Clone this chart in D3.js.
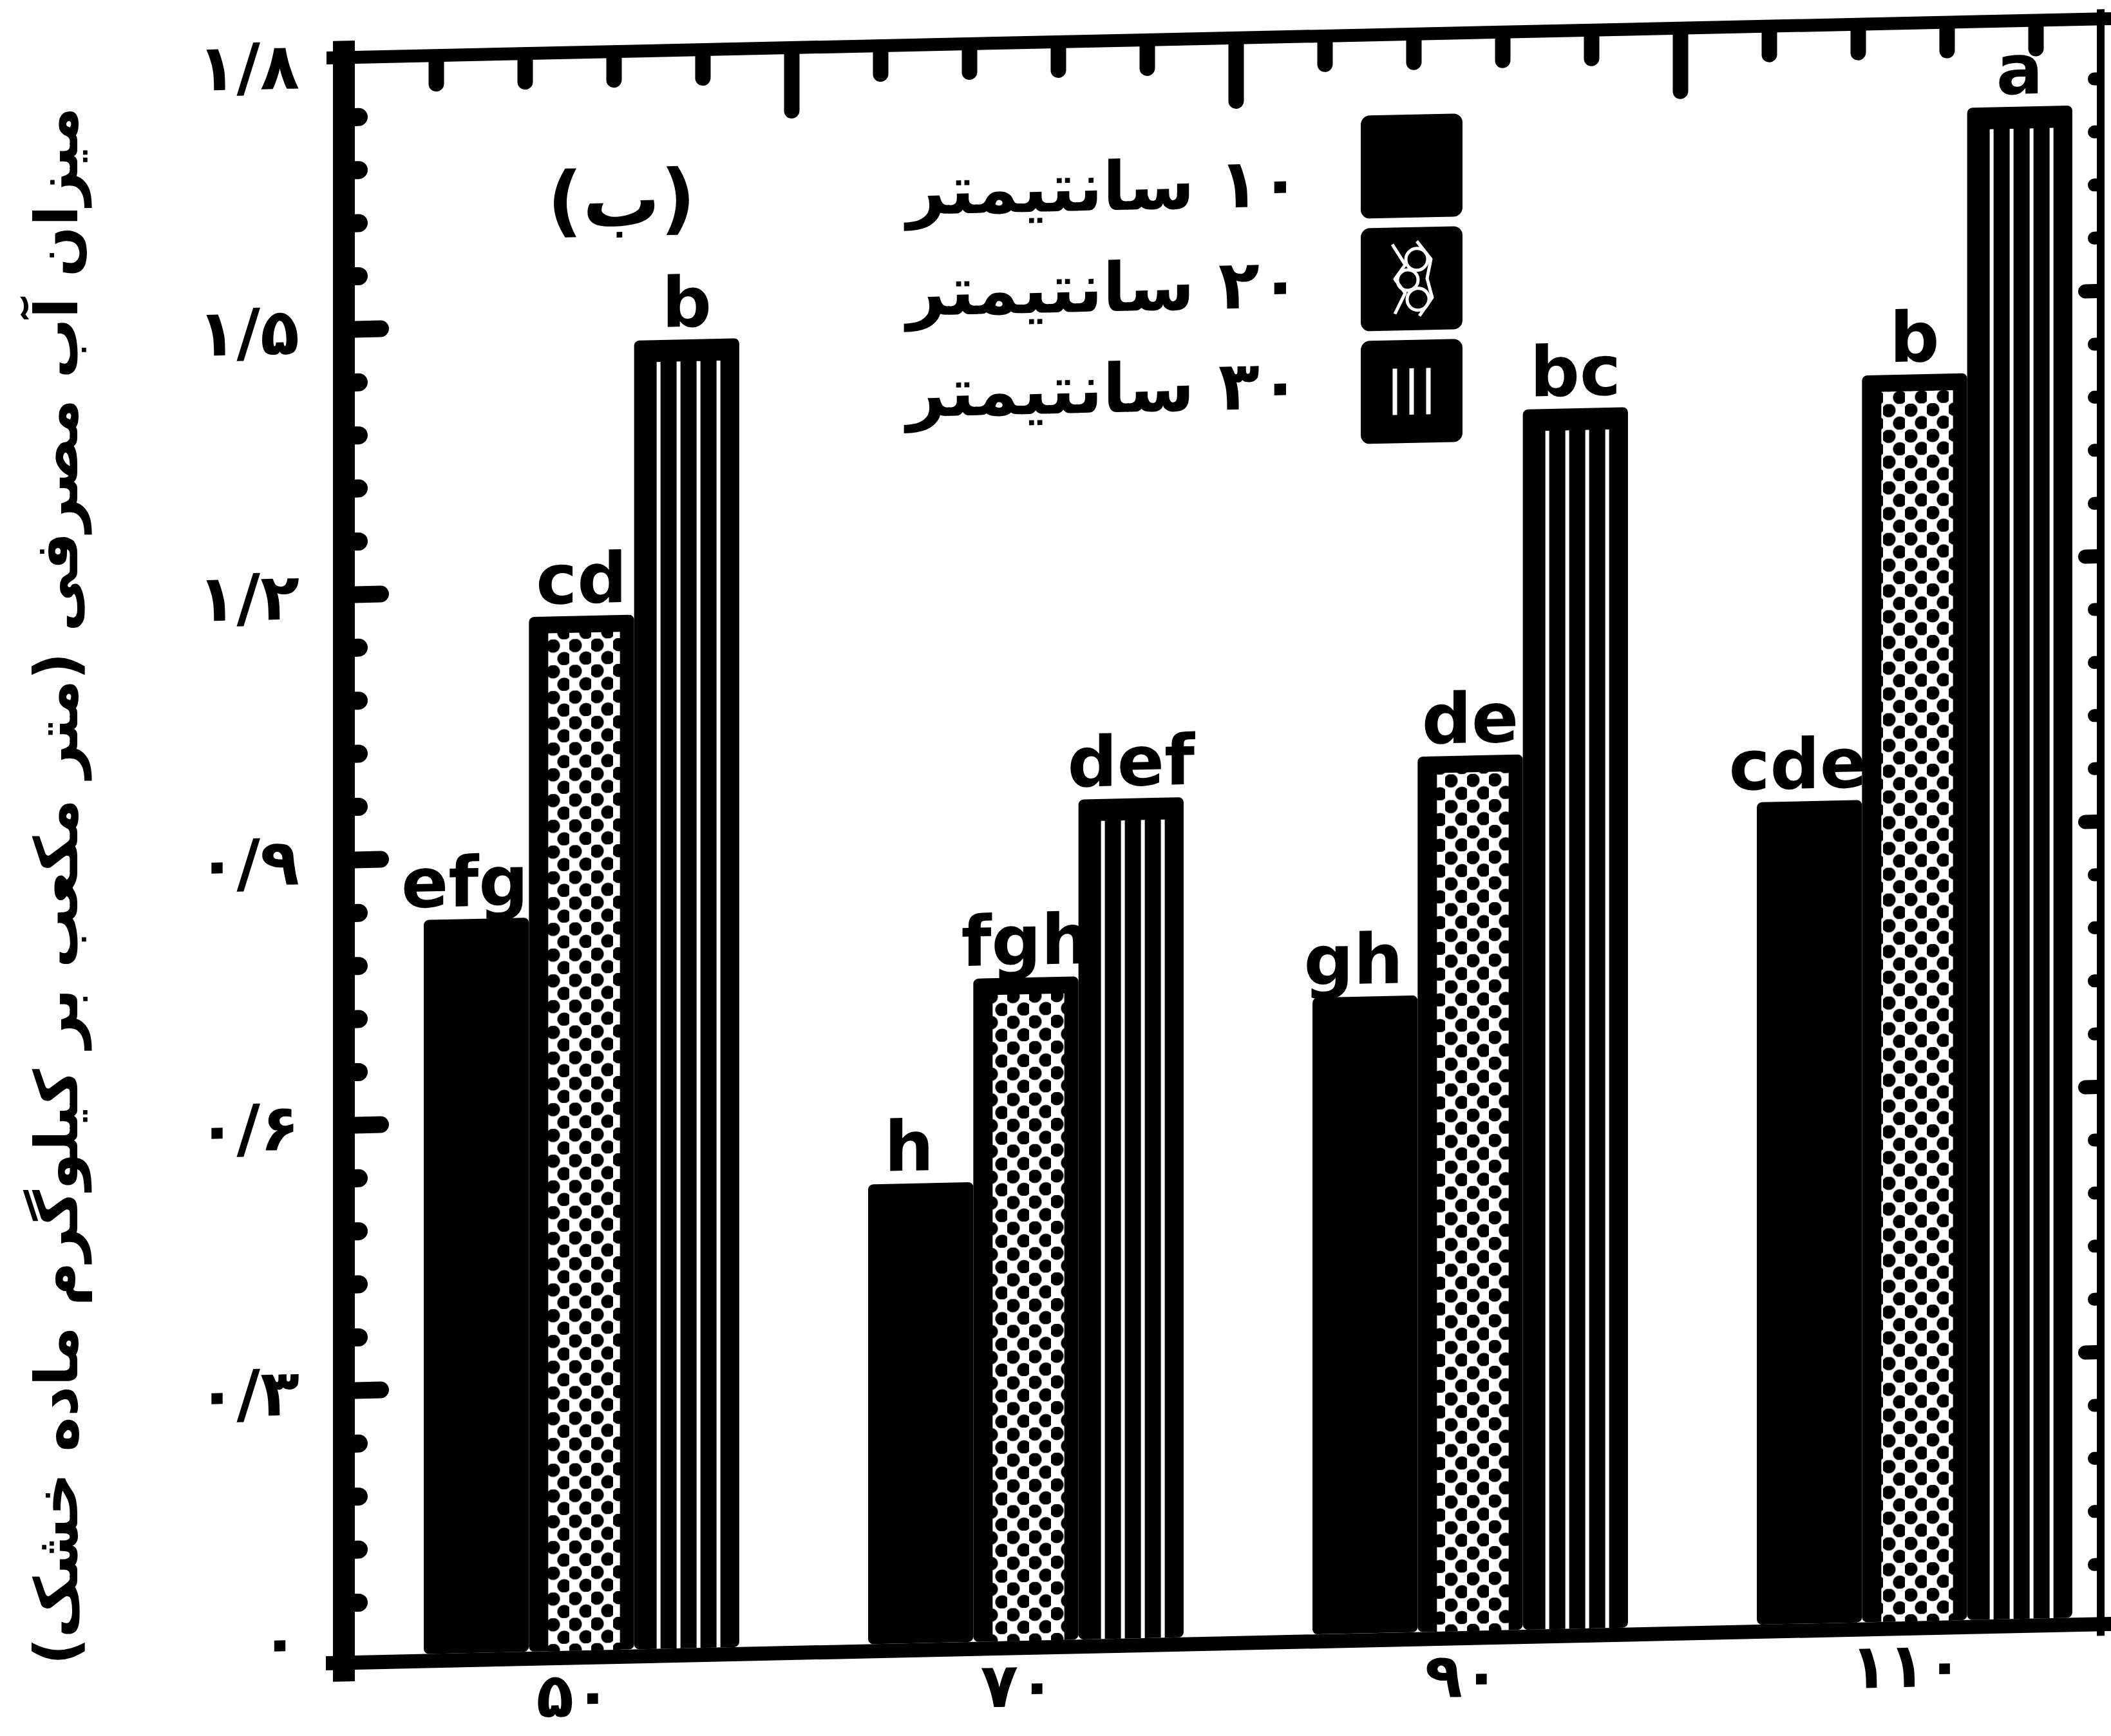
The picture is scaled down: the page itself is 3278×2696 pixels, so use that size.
<!DOCTYPE html>
<html>
<head>
<meta charset="utf-8">
<script src="https://cdn.jsdelivr.net/npm/d3@7"></script>
<style>
  html, body { margin: 0; padding: 0; background: #fff; }
  svg { display: block; }
  text { font-family: "DejaVu Sans", sans-serif; font-weight: bold; fill: #000; }
</style>
</head>
<body>
<svg id="chart" width="3278" height="2696"></svg>
<script>
// ---------------- data ----------------
const categories = ["۵۰", "۷۰", "۹۰", "۱۱۰"];
const seriesNames = ["۱۰ سانتیمتر", "۲۰ سانتیمتر", "۳۰ سانتیمتر"];
const depth10 = [0.83, 0.52, 0.72, 0.93];
const depth20 = [1.17, 0.75, 0.99, 1.41];
const depth30 = [1.48, 0.95, 1.38, 1.71];
const letters10 = ["efg", "h", "gh", "cde"];
const letters20 = ["cd", "fgh", "de", "b"];
const letters30 = ["b", "def", "bc", "a"];
const yTickValues = [0, 0.3, 0.6, 0.9, 1.2, 1.5, 1.8];
const yTickLabels = ["۰", "۰/۳", "۰/۶", "۰/۹", "۱/۲", "۱/۵", "۱/۸"];
const yTitle = "میزان آب مصرفی (متر مکعب بر کیلوگرم ماده خشک)";
const panelLabel = "(ب)";

const seriesValues = [depth10, depth20, depth30];
const seriesLetters = [letters10, letters20, letters30];

// ---------------- layout ----------------
const svg = d3.select("#chart");
svg.append("rect").attr("width", 3278).attr("height", 2696).attr("fill", "#fff");

const defs = svg.append("defs");
const dots = defs.append("pattern").attr("id", "dots")
  .attr("patternUnits", "userSpaceOnUse").attr("width", 34).attr("height", 40);
dots.append("rect").attr("width", 34).attr("height", 40).attr("fill", "#fff");
dots.append("circle").attr("cx", 9).attr("cy", 10).attr("r", 10.5).attr("fill", "#000");
dots.append("circle").attr("cx", 26).attr("cy", 30).attr("r", 10.5).attr("fill", "#000");

// the scan is slightly skewed: horizontal lines rise to the right
const g = svg.append("g").attr("transform", "translate(0,12.1) skewY(-1.26)");

const pLeft = 551, pRight = 3256, pTop = 99, pBottom = 2571;

const x0 = d3.scaleBand().domain(categories).range([558, 3318])
  .paddingInner(0.29).paddingOuter(0.145);
const x1 = d3.scaleBand().domain(d3.range(seriesNames.length)).range([0, x0.bandwidth()]);
const y = d3.scaleLinear().domain([0, 1.8]).range([pBottom, pTop]);
const xTop = d3.scaleLinear().domain([0, 20]).range([539, 3299]);

// ---------------- bars ----------------
const barData = [];
seriesValues.forEach((vals, s) => vals.forEach((v, i) => barData.push({ s, i, v, cat: categories[i], letter: seriesLetters[s][i] })));

const bars = g.append("g");
bars.selectAll("g.bar").data(barData).join("g").attr("class", "bar").each(function (d) {
  const el = d3.select(this);
  const bx = x0(d.cat) + x1(d.s), bw = x1.bandwidth();
  const by = y(d.v), bh = y(0) - y(d.v);
  el.append("rect").attr("x", bx).attr("y", by).attr("width", bw).attr("height", bh)
    .attr("rx", 8).attr("fill", "#000");
  if (d.s === 1) {
    el.append("rect").attr("x", bx + 30).attr("y", by + 26)
      .attr("width", bw - 30 - 22).attr("height", Math.max(0, bh - 26))
      .attr("fill", "url(#dots)");
  } else if (d.s === 2) {
    d3.range(4).forEach(k => {
      el.append("line").attr("x1", bx + 38 + 31 * k).attr("x2", bx + 38 + 31 * k)
        .attr("y1", by + 34).attr("y2", y(0))
        .attr("stroke", "#fff").attr("stroke-width", 6);
    });
  }
});

// significance letters
g.append("g").selectAll("text").data(barData).join("text")
  .attr("x", d => x0(d.cat) + x1(d.s) + x1.bandwidth() / 2 - (d.s === 0 ? 18 : 0))
  .attr("y", d => y(d.v) - 20)
  .attr("text-anchor", "middle")
  .attr("font-size", 108)
  .text(d => d.letter);

// ---------------- axes ----------------
function styleAxis(sel, width) {
  sel.select(".domain").remove();
  sel.selectAll(".tick line").attr("stroke", "#000").attr("stroke-width", width).attr("stroke-linecap", "round");
  sel.attr("font-family", null).attr("font-size", null);
}
const minorY = d3.range(1, 30).map(k => k * 0.06).filter((v, k) => (k + 1) % 5 !== 0);

// left axis, major ticks + labels
const yAxisL = g.append("g").attr("transform", `translate(${pLeft},0)`)
  .call(d3.axisLeft(y).tickValues(yTickValues).tickSizeInner(-40).tickSizeOuter(0)
    .tickPadding(86).tickFormat((d, i) => yTickLabels[i]));
styleAxis(yAxisL, 26);
yAxisL.selectAll(".tick text").attr("font-size", 100).attr("dy", "0.36em");
yAxisL.selectAll(".tick").filter(d => d === 0).select("text").attr("dy", "0.1em");
yAxisL.selectAll(".tick").filter(d => d === 0 || d === 1.8).select("line").remove();

const yAxisLm = g.append("g").attr("transform", `translate(${pLeft},0)`)
  .call(d3.axisLeft(y).tickValues(minorY).tickSizeInner(-6).tickSizeOuter(0).tickFormat(""));
styleAxis(yAxisLm, 28);

// right axis
const yAxisR = g.append("g").attr("transform", `translate(${pRight},0)`)
  .call(d3.axisRight(y).tickValues(yTickValues.slice(1, -1)).tickSizeInner(-18).tickSizeOuter(0).tickFormat(""));
styleAxis(yAxisR, 22);
const yAxisRm = g.append("g").attr("transform", `translate(${pRight},0)`)
  .call(d3.axisRight(y).tickValues(minorY).tickSizeInner(-4).tickSizeOuter(0).tickFormat(""));
styleAxis(yAxisRm, 20);

// top axis (tick marks only)
const topMinor = d3.range(1, 20).filter(k => k % 5 !== 0 && xTop(k) < pRight - 20);
const topMajor = [5, 10, 15];
const xAxisTm = g.append("g").attr("transform", `translate(0,${pTop})`)
  .call(d3.axisTop(xTop).tickValues(topMinor).tickSizeInner(-34).tickSizeOuter(0).tickFormat(""));
styleAxis(xAxisTm, 24);
const xAxisTM = g.append("g").attr("transform", `translate(0,${pTop})`)
  .call(d3.axisTop(xTop).tickValues(topMajor).tickSizeInner(-88).tickSizeOuter(0).tickFormat(""));
styleAxis(xAxisTM, 24);

// bottom axis labels
const xAxisB = g.append("g").attr("transform", `translate(-12,${pBottom})`)
  .call(d3.axisBottom(x0).tickSize(0).tickPadding(0));
styleAxis(xAxisB, 0);
xAxisB.selectAll(".tick line").remove();
xAxisB.selectAll(".tick text").attr("font-size", 96).attr("dy", null).attr("y", 102);

// frame
const frame = g.append("g").attr("stroke", "#000").attr("stroke-linecap", "square");
frame.append("line").attr("x1", 534).attr("x2", 534).attr("y1", 80).attr("y2", 2594).attr("stroke-width", 34);
frame.append("line").attr("x1", 517).attr("x2", 3268).attr("y1", 89).attr("y2", 89).attr("stroke-width", 20);
frame.append("line").attr("x1", 517).attr("x2", 3268).attr("y1", 2582).attr("y2", 2582).attr("stroke-width", 22);
frame.append("line").attr("x1", 3262).attr("x2", 3262).attr("y1", 80).attr("y2", 2594).attr("stroke-width", 12);

// ---------------- legend ----------------
const legend = g.append("g");
const boxX = 2113, boxW = 158, boxH = 160, rowTop = 214, rowStep = 175;
seriesNames.forEach((name, s) => {
  const ty = rowTop + rowStep * s;
  legend.append("rect").attr("x", boxX).attr("y", ty).attr("width", boxW).attr("height", boxH)
    .attr("rx", 14).attr("fill", "#000");
  const cx = boxX + boxW / 2, cy = ty + boxH / 2;
  if (s === 1) {
    const sym = legend.append("g").attr("fill", "none").attr("stroke", "#fff")
      .attr("stroke-width", 5).attr("stroke-linejoin", "round");
    sym.append("path").attr("d",
      `M${cx - 30},${cy - 54} L${cx - 10},${cy - 22} L${cx - 26},${cy} L${cx - 10},${cy + 22} L${cx - 26},${cy + 54}` +
      ` M${cx + 8},${cy - 58} L${cx + 30},${cy - 30} L${cx + 24},${cy} L${cx + 32},${cy + 30} L${cx + 12},${cy + 58}`);
    sym.append("circle").attr("cx", cx + 8).attr("cy", cy - 30).attr("r", 17);
    sym.append("circle").attr("cx", cx - 6).attr("cy", cy + 2).attr("r", 16);
    sym.append("circle").attr("cx", cx + 10).attr("cy", cy + 32).attr("r", 17);
  } else if (s === 2) {
    [-26, 0, 26].forEach(o => legend.append("line")
      .attr("x1", cx + o).attr("x2", cx + o).attr("y1", cy - 36).attr("y2", cy + 36)
      .attr("stroke", "#fff").attr("stroke-width", 7));
  }
  const t = legend.append("text").attr("direction", "rtl").attr("text-anchor", "middle")
    .attr("font-size", 120).attr("y", cy + 58 - 18 * s).text(name);
  const len = t.node().getComputedTextLength();
  const fs = 120 * 612 / len;
  t.attr("font-size", fs);
  const len2 = t.node().getComputedTextLength();
  t.attr("x", 2020 - len2 / 2);
});

// panel label
g.append("text").attr("direction", "rtl").attr("text-anchor", "middle")
  .attr("x", 965).attr("y", 360).attr("font-size", 120).text(panelLabel);

// y title
const title = svg.append("text").attr("direction", "rtl").attr("text-anchor", "middle")
  .attr("transform", "translate(120,1376) rotate(-90)")
  .attr("font-size", 110).text(yTitle);
const tl = title.node().getComputedTextLength();
title.attr("font-size", 110 * 2420 / tl);
</script>
</body>
</html>
